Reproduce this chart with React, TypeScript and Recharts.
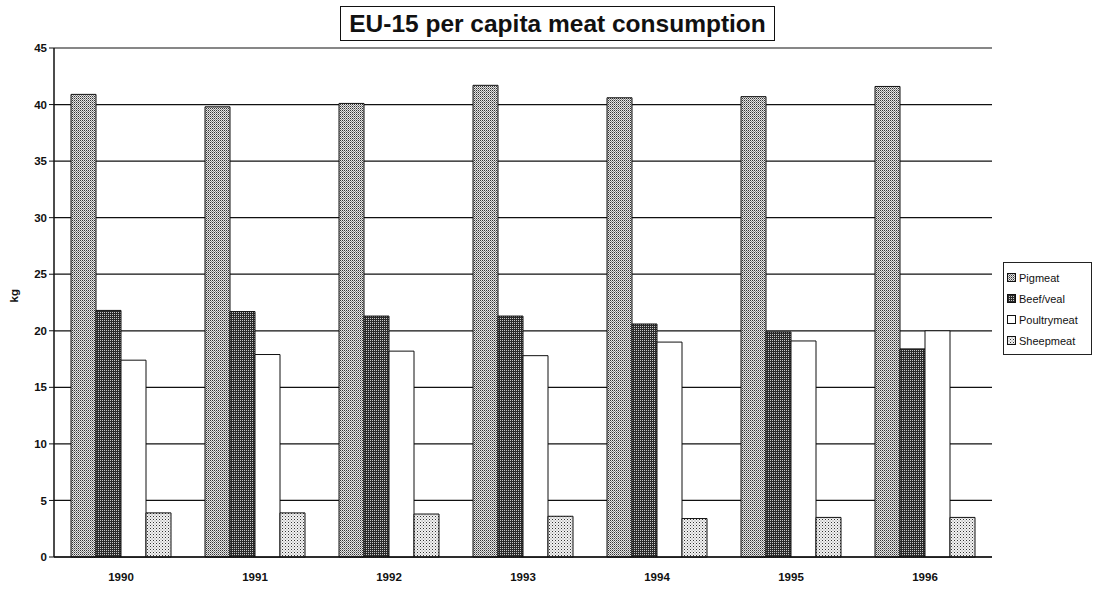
import { Bar, BarChart, CartesianGrid, Legend, XAxis, YAxis } from 'recharts';

const years = ['1990', '1991', '1992', '1993', '1994', '1995', '1996'];
const pigmeat = [40.9, 39.8, 40.1, 41.7, 40.6, 40.7, 41.6];
const beefVeal = [21.8, 21.7, 21.3, 21.3, 20.6, 19.9, 18.4];
const poultrymeat = [17.4, 17.9, 18.2, 17.8, 19.0, 19.1, 20.0];
const sheepmeat = [3.9, 3.9, 3.8, 3.6, 3.4, 3.5, 3.5];
const yTicks = [0, 5, 10, 15, 20, 25, 30, 35, 40, 45];

const seriesInfo = [
  { key: 'pig', name: 'Pigmeat', fill: 'url(#patPig)' },
  { key: 'beef', name: 'Beef/veal', fill: 'url(#patBeef)' },
  { key: 'poultry', name: 'Poultrymeat', fill: '#ffffff' },
  { key: 'sheep', name: 'Sheepmeat', fill: 'url(#patSheep)' },
];

const data = years.map((year, i) => ({
  year,
  pig: pigmeat[i],
  beef: beefVeal[i],
  poultry: poultrymeat[i],
  sheep: sheepmeat[i],
}));

const font = "'Liberation Sans Narrow', 'Liberation Sans', Arial, sans-serif";
const tickStyle = { fontSize: 11.5, fontWeight: 700, fill: '#111', fontFamily: font };

function LegendBox() {
  return (
    <div
      style={{
        border: '1px solid #222',
        background: '#fff',
        padding: '4px 4px 3px 3px',
        fontFamily: font,
        fontSize: 11,
        color: '#111',
        width: 80,
      }}
    >
      {seriesInfo.map((s) => (
        <div key={s.key} style={{ display: 'flex', alignItems: 'center', height: 21 }}>
          <svg width={9} height={9} style={{ marginRight: 3 }}>
            <rect x={0.5} y={0.5} width={8} height={8} fill={s.fill} stroke="#111" strokeWidth={1} />
          </svg>
          {s.name}
        </div>
      ))}
    </div>
  );
}

export default function App() {
  return (
    <div style={{ position: 'absolute', left: 0, top: 0, width: 1093, height: 589, background: '#fff' }}>
      <BarChart
        width={1093}
        height={589}
        data={data}
        margin={{ top: 48, right: 11, bottom: 2, left: 10 }}
        barCategoryGap={17}
        barGap={0}
      >
        <defs>
          <pattern id="patPig" patternUnits="userSpaceOnUse" width={2} height={2}>
            <rect width={2} height={2} fill="#e6e6e6" />
            <rect x={0} y={0} width={1} height={1} fill="#333" />
            <rect x={1} y={1} width={1} height={1} fill="#888" />
          </pattern>
          <pattern id="patBeef" patternUnits="userSpaceOnUse" width={2} height={2}>
            <rect width={2} height={2} fill="#2a2a2a" />
            <rect x={0} y={0} width={1} height={1} fill="#c8c8c8" />
          </pattern>
          <pattern id="patSheep" patternUnits="userSpaceOnUse" width={3} height={3}>
            <rect width={3} height={3} fill="#f2f2f2" />
            <rect x={0} y={0} width={1} height={1} fill="#333" />
            <rect x={1.5} y={1.5} width={1} height={1} fill="#888" />
          </pattern>
        </defs>
        <CartesianGrid vertical={false} stroke="#111" strokeWidth={1.2} />
        <XAxis
          dataKey="year"
          height={30}
          tick={tickStyle}
          tickLine={false}
          axisLine={{ stroke: '#111', strokeWidth: 1.5 }}
          dy={8}
        />
        <YAxis
          domain={[0, 45]}
          ticks={yTicks}
          interval={0}
          width={44}
          tick={tickStyle}
          tickSize={5}
          tickLine={{ stroke: '#111' }}
          axisLine={{ stroke: '#111', strokeWidth: 1.5 }}
          label={{ value: 'kg', angle: -90, position: 'insideLeft', offset: 4, style: { ...tickStyle } }}
        />
        <YAxis
          yAxisId="right"
          orientation="right"
          width={0}
          tick={false}
          tickLine={false}
          axisLine={{ stroke: '#111', strokeWidth: 1.5 }}
        />
        <Legend
          layout="vertical"
          align="right"
          verticalAlign="top"
          content={() => <LegendBox />}
          wrapperStyle={{ left: 1003, top: 262, width: 90 }}
        />
        {seriesInfo.map((s) => (
          <Bar key={s.key} dataKey={s.key} name={s.name} fill={s.fill} stroke="#111" strokeWidth={1} isAnimationActive={false} />
        ))}
      </BarChart>
      <div
        style={{
          position: 'absolute',
          left: 340,
          top: 6,
          width: 433,
          height: 33,
          border: '1.5px solid #111',
          background: '#fff',
          display: 'flex',
          alignItems: 'center',
          justifyContent: 'center',
          fontFamily: "'Liberation Sans', Arial, sans-serif",
          fontSize: 24.5,
          fontWeight: 700,
          color: '#111',
          whiteSpace: 'nowrap',
        }}
      >
        EU-15 per capita meat consumption
      </div>
    </div>
  );
}
